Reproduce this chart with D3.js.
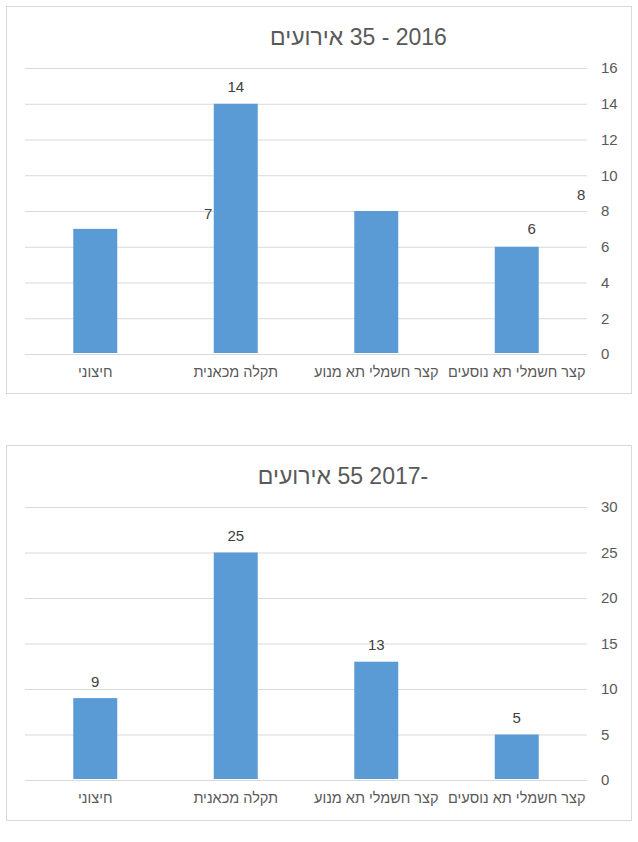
<!DOCTYPE html>
<html>
<head>
<meta charset="utf-8">
<script src="https://cdn.jsdelivr.net/npm/d3@7"></script>
<style>
  body { margin: 0; background: #fff; }
  svg { display: block; font-family: "Liberation Sans", Arial, sans-serif; }
</style>
</head>
<body>
<script>
//-----------------Data----------------
// categories in Excel order (first one is drawn on the right)
const categories = ["קצר חשמלי תא נוסעים", "קצר חשמלי תא מנוע", "תקלה מכאנית", "חיצוני"];

const values2016 = [6, 8, 14, 7];
const values2017 = [5, 13, 25, 9];

const ticks2016 = [0, 2, 4, 6, 8, 10, 12, 14, 16];
const ticks2017 = [0, 5, 10, 15, 20, 25, 30];

const title2016 = "2016 - 35 אירועים";
const title2017 = "-2017 55 אירועים";

// some data labels were dragged away from their bars in the original
const labelShift2016 = [[15, -1], [205, 0], [0, 0], [113, 2]];
const labelShift2017 = [[0, 0], [0, 0], [0, 0], [0, 0]];

//-----------------Main svg------------------
const width = 638;
const height = 842;

const svg = d3.select("body").append("svg").attr("width", width).attr("height", height);

function buildChart(opts) {
  const g = svg.append("g");

  // chart frame
  g.append("rect")
    .attr("x", 6.5)
    .attr("y", opts.top + 0.5)
    .attr("width", 625)
    .attr("height", opts.boxHeight)
    .attr("fill", "#fff")
    .attr("stroke", "#d9d9d9");

  g.append("text")
    .attr("x", opts.titleX)
    .attr("y", opts.top + 39)
    .attr("text-anchor", "middle")
    .style("direction", "rtl")
    .attr("font-size", 23)
    .attr("fill", "#595959")
    .text(opts.title);

  const x = d3.scaleBand().domain(categories).range([587, 25]);
  const y = d3.scaleLinear()
    .domain([0, d3.max(opts.ticks)])
    .range([opts.zeroY, opts.zeroY - opts.plotHeight]);

  //-----------Gridlines + right axis------------
  const yAxis = g.append("g")
    .attr("transform", `translate(587,0)`)
    .call(d3.axisRight(y).tickValues(opts.ticks).tickSize(-562).tickPadding(14));
  yAxis.select(".domain").remove();
  yAxis.selectAll("line").attr("stroke", "#d9d9d9");
  yAxis.selectAll("text")
    .attr("fill", "#595959")
    .attr("font-size", 15)
    .attr("font-family", "Liberation Sans, Arial, sans-serif");

  //-----------Bars------------
  const barW = x.bandwidth() * 0.313;
  const data = categories.map((c, i) => ({ cat: c, value: opts.values[i], shift: opts.shift[i] }));

  g.selectAll(".bar")
    .data(data)
    .enter()
    .append("rect")
    .attr("class", "bar")
    .attr("x", (d) => x(d.cat) + (x.bandwidth() - barW) / 2)
    .attr("y", (d) => y(d.value))
    .attr("width", barW)
    .attr("height", (d) => y(0) - y(d.value) - 1)
    .attr("fill", "#5b9bd5");

  g.selectAll(".value")
    .data(data)
    .enter()
    .append("text")
    .attr("class", "value")
    .attr("x", (d) => x(d.cat) + x.bandwidth() / 2 + d.shift[0])
    .attr("y", (d) => y(d.value) - 11.5 + d.shift[1])
    .attr("text-anchor", "middle")
    .attr("font-size", 15)
    .attr("fill", "#404040")
    .text((d) => d.value);

  //-----------Category axis------------
  const xAxis = g.append("g")
    .attr("transform", `translate(0,${y(0)})`)
    .call(d3.axisBottom(x).tickSize(0).tickPadding(13));
  xAxis.select(".domain").remove();
  xAxis.selectAll("text")
    .style("direction", "rtl")
    .attr("fill", "#595959")
    .attr("font-size", 14.5)
    .attr("font-family", "Liberation Sans, Arial, sans-serif");
}

buildChart({
  top: 6,
  boxHeight: 387,
  title: title2016,
  titleX: 358.5,
  values: values2016,
  ticks: ticks2016,
  shift: labelShift2016,
  zeroY: 354,
  plotHeight: 286,
});

buildChart({
  top: 445,
  boxHeight: 375,
  title: title2017,
  titleX: 343,
  values: values2017,
  ticks: ticks2017,
  shift: labelShift2017,
  zeroY: 780,
  plotHeight: 273,
});
</script>
</body>
</html>
